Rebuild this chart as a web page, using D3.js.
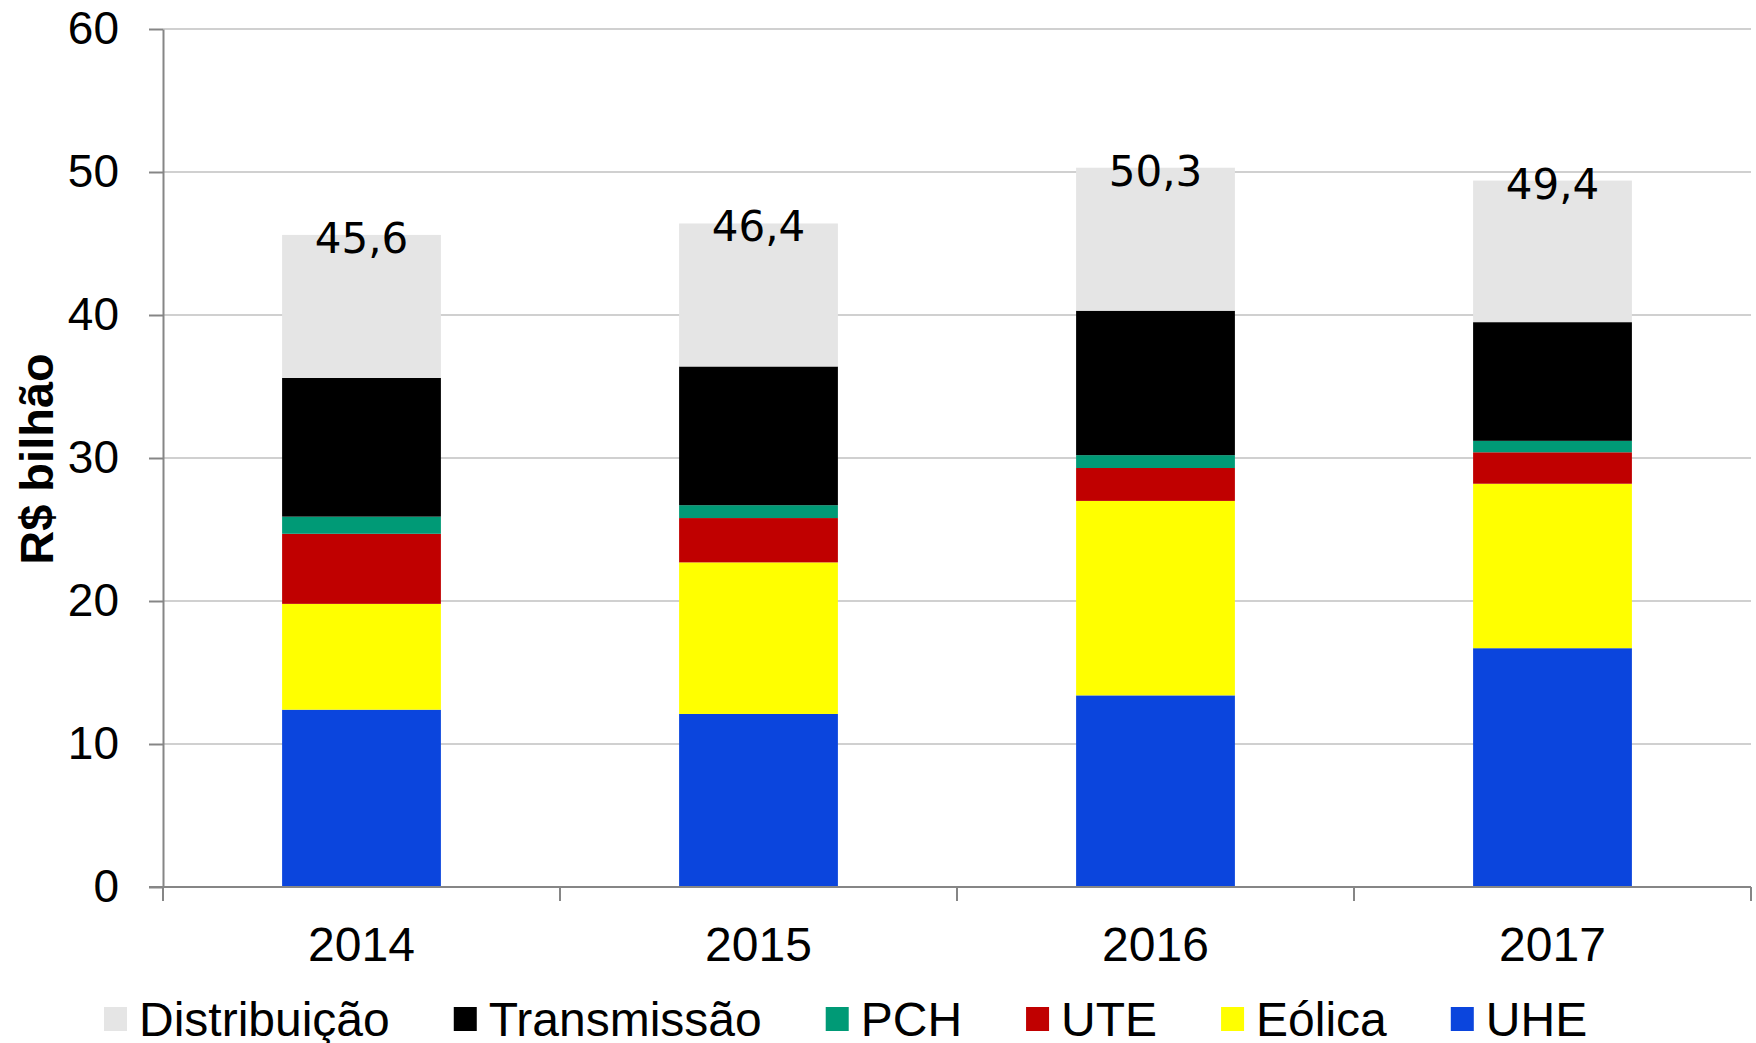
<!DOCTYPE html>
<html>
<head>
<meta charset="utf-8">
<script src="https://cdn.jsdelivr.net/npm/d3@7"></script>
<style>
    body { margin: 0; background: #fff; }
    svg { display: block; }
</style>
</head>
<body>
<script>
//Data
    const years = ["2014", "2015", "2016", "2017"];
    const series = ["UHE", "Eólica", "UTE", "PCH", "Transmissão", "Distribuição"];
    const uhe = [12.4, 12.1, 13.4, 16.7];
    const eolica = [7.4, 10.6, 13.6, 11.5];
    const ute = [4.9, 3.1, 2.3, 2.2];
    const pch = [1.2, 0.9, 0.9, 0.8];
    const transmissao = [9.7, 9.7, 10.1, 8.3];
    const distribuicao = [10.0, 10.0, 10.0, 9.9];
    const totals = ["45,6", "46,4", "50,3", "49,4"];
    const yTicks = [0, 10, 20, 30, 40, 50, 60];
    const legendOrder = ["Distribuição", "Transmissão", "PCH", "UTE", "Eólica", "UHE"];

//Variables
    const width = 1756;
    const height = 1043;
    const plotLeft = 163;
    const plotRight = 1751;
    const plotTop = 29;
    const plotBottom = 887;

    const colors = {
        "UHE": "#0b45dd",
        "Eólica": "#ffff00",
        "UTE": "#c00000",
        "PCH": "#009a76",
        "Transmissão": "#000000",
        "Distribuição": "#e5e5e5"
    };

    const table = years.map((y, i) => ({
        year: y,
        "UHE": uhe[i],
        "Eólica": eolica[i],
        "UTE": ute[i],
        "PCH": pch[i],
        "Transmissão": transmissao[i],
        "Distribuição": distribuicao[i],
        label: totals[i]
    }));

    const stacked = d3.stack().keys(series)(table);

//SVG creation
    const svg = d3.select("body")
        .append("svg")
        .attr("width", width)
        .attr("height", height)
        .style("font-family", "'Liberation Sans', Arial, sans-serif");

//Scales
    const xScale = d3.scaleBand()
        .domain(years)
        .range([plotLeft, plotRight])
        .paddingInner(0.6)
        .paddingOuter(0.3);

    const yScale = d3.scaleLinear()
        .domain([0, 60])
        .range([plotBottom, plotTop]);

//Gridlines
    svg.append("g")
        .selectAll("line")
        .data(yTicks.filter(d => d > 0))
        .enter()
        .append("line")
        .attr("x1", plotLeft)
        .attr("x2", plotRight)
        .attr("y1", d => yScale(d))
        .attr("y2", d => yScale(d))
        .attr("stroke", "#d0d0d0")
        .attr("stroke-width", 2);

//Bars
    svg.append("g")
        .selectAll("g")
        .data(stacked)
        .enter()
        .append("g")
        .attr("fill", d => colors[d.key])
        .selectAll("rect")
        .data(d => d)
        .enter()
        .append("rect")
        .attr("x", d => xScale(d.data.year))
        .attr("y", d => yScale(d[1]))
        .attr("width", xScale.bandwidth())
        .attr("height", d => yScale(d[0]) - yScale(d[1]));

//Total labels
    svg.append("g")
        .selectAll("text")
        .data(table)
        .enter()
        .append("text")
        .text(d => d.label)
        .attr("x", d => xScale(d.year) + xScale.bandwidth() / 2)
        .attr("y", d => yScale(d3.sum(series, k => d[k])) + 18)
        .attr("text-anchor", "middle")
        .style("font-family", "'DejaVu Sans', Verdana, sans-serif")
        .style("font-size", "42px")
        .attr("fill", "#000");

//yAxis
    const yAxis = d3.axisLeft(yScale)
        .tickValues(yTicks)
        .tickSize(14)
        .tickPadding(30)
        .tickSizeOuter(0);

    const yG = svg.append("g")
        .attr("transform", `translate(${plotLeft}, 0)`)
        .call(yAxis);
    yG.selectAll("path, line").attr("stroke", "#868686").attr("stroke-width", 2);
    yG.selectAll("text")
        .style("font-family", "'Liberation Sans', Arial, sans-serif")
        .style("font-size", "46px")
        .attr("fill", "#000");

//xAxis
    const xG = svg.append("g");
    xG.append("line")
        .attr("x1", plotLeft - 14)
        .attr("x2", plotRight)
        .attr("y1", plotBottom)
        .attr("y2", plotBottom)
        .attr("stroke", "#868686")
        .attr("stroke-width", 2);

    const bounds = years.map(y => xScale(y) - xScale.step() * xScale.paddingInner() / 2);
    bounds[0] = plotLeft;
    bounds.push(plotRight);

    xG.selectAll(".tick")
        .data(bounds)
        .enter()
        .append("line")
        .attr("x1", d => d)
        .attr("x2", d => d)
        .attr("y1", plotBottom)
        .attr("y2", plotBottom + 14)
        .attr("stroke", "#868686")
        .attr("stroke-width", 2);

    xG.selectAll("text")
        .data(years)
        .enter()
        .append("text")
        .text(d => d)
        .attr("x", d => xScale(d) + xScale.bandwidth() / 2)
        .attr("y", plotBottom + 74)
        .attr("text-anchor", "middle")
        .style("font-size", "48px")
        .attr("fill", "#000");

//Y title
    svg.append("text")
        .text("R$ bilhão")
        .attr("transform", `translate(36, 459) rotate(-90)`)
        .attr("text-anchor", "middle")
        .attr("dominant-baseline", "central")
        .style("font-size", "47px")
        .style("font-weight", "bold")
        .attr("fill", "#000");

//Legend
    const legend = svg.append("g");
    let lx = 104;
    legendOrder.forEach(k => {
        legend.append("rect")
            .attr("x", lx)
            .attr("y", 1007)
            .attr("width", 23)
            .attr("height", 24)
            .attr("fill", colors[k]);
        const t = legend.append("text")
            .text(k)
            .attr("x", lx + 35)
            .attr("y", 1036)
            .style("font-size", "48px")
            .attr("fill", "#000");
        lx = lx + 35 + t.node().getComputedTextLength() + 64;
    });
</script>
</body>
</html>
